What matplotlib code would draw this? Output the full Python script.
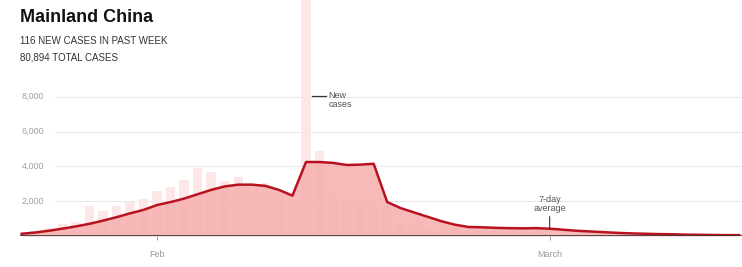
import numpy as np
import pandas as pd
import matplotlib
matplotlib.use("Agg")
import matplotlib.pyplot as plt

plt.rcParams['font.family'] = ['Liberation Sans', 'DejaVu Sans']

# Daily new cases, Jan 22 - Mar 15
dates = pd.date_range("2020-01-22", "2020-03-15", freq="D")
new_cases = [130, 280, 480, 680, 800, 1750, 1460, 1740, 1980, 2100,
             2600, 2830, 3240, 3900, 3700, 3150, 3400, 2650, 3060, 2480,
             2020, 14840, 4900, 2640, 2010, 2050, 1890, 1750, 820, 890,
             400, 650, 410, 510, 410, 430, 330, 430, 570,
             200, 120, 120, 140, 100, 45, 45, 40, 20, 25, 10, 10, 20, 15, 16]
avg_7day = [130, 200, 300, 420, 550, 700, 880, 1080, 1300, 1500,
            1780, 1950, 2150, 2400, 2650, 2850, 2950, 2950, 2880, 2650,
            2320, 4250, 4250, 4200, 4080, 4100, 4150, 1950, 1600, 1350,
            1100, 850, 650, 520, 500, 470, 450, 440, 450,
            420, 360, 300, 260, 220, 180, 150, 130, 110, 100, 80, 70, 60, 50, 50]
y_ticks = [2000, 4000, 6000, 8000]
y_tick_labels = ["2,000", "4,000", "6,000", "8,000"]
x_ticks = [pd.Timestamp("2020-02-01"), pd.Timestamp("2020-03-01")]
x_tick_labels = ["Feb", "March"]

W, H = 742, 267
fig = plt.figure(figsize=(W / 100, H / 100), dpi=100)
ax = fig.add_axes([20 / W, 31 / H, 722 / W, 236 / H])

ax.bar(dates, new_cases, width=0.7, color="#fde6e6", zorder=1)
ax.fill_between(dates, avg_7day, 0, color="#f8b2b2", alpha=0.9, lw=0, zorder=2)
ax.plot(dates, avg_7day, color="#b8121f", lw=1.8, zorder=3)

ax.set_ylim(0, 13560)
ax.set_xlim(dates[0] - pd.Timedelta(hours=3), dates[-1] + pd.Timedelta(hours=5))

# gridlines and labels
for v, lab in zip(y_ticks, y_tick_labels):
    ax.axhline(v, xmin=35 / 722, xmax=1, color="#e8e8e8", lw=0.8, zorder=0)
    ax.text(2 / 722, v, lab, transform=ax.get_yaxis_transform(), ha="left",
            va="center", fontsize=6.5, color="#a0a0a0")
ax.axhline(0, color="#333333", lw=1.2, zorder=4)

for s in ax.spines.values():
    s.set_visible(False)
ax.set_yticks([])
ax.set_xticks(x_ticks)
ax.set_xticklabels(x_tick_labels, fontsize=6.5, color="#9a9a9a")
ax.tick_params(axis="x", length=3, width=0.6, color="#888888", pad=7)

# annotations
spike_day = pd.Timestamp("2020-02-12")
ax.plot([spike_day + pd.Timedelta(hours=10), spike_day + pd.Timedelta(days=1.45)],
        [8060, 8060], color="#333333", lw=0.9, zorder=5)
ax.text(spike_day + pd.Timedelta(days=1.65), 8350, "New\ncases", fontsize=6.5,
        color="#555555", ha="left", va="top", linespacing=1.0)
mar1 = pd.Timestamp("2020-03-01")
ax.annotate("7-day\naverage", xy=(mar1, 380), xytext=(mar1, 1350),
            fontsize=6.5, color="#555555", ha="center", va="bottom",
            linespacing=1.0,
            arrowprops=dict(arrowstyle="-", color="#333333", lw=0.8,
                            shrinkA=1, shrinkB=0))

fig.text(20 / W, 1 - 17 / H, "Mainland China", fontsize=13, fontweight="bold",
         color="#121212", va="center")
fig.text(20 / W, 1 - 41 / H, "116 NEW CASES IN PAST WEEK", fontsize=7,
         color="#333333", va="center")
fig.text(20 / W, 1 - 58 / H, "80,894 TOTAL CASES", fontsize=7,
         color="#333333", va="center")

fig.savefig("out.png", dpi=100)
